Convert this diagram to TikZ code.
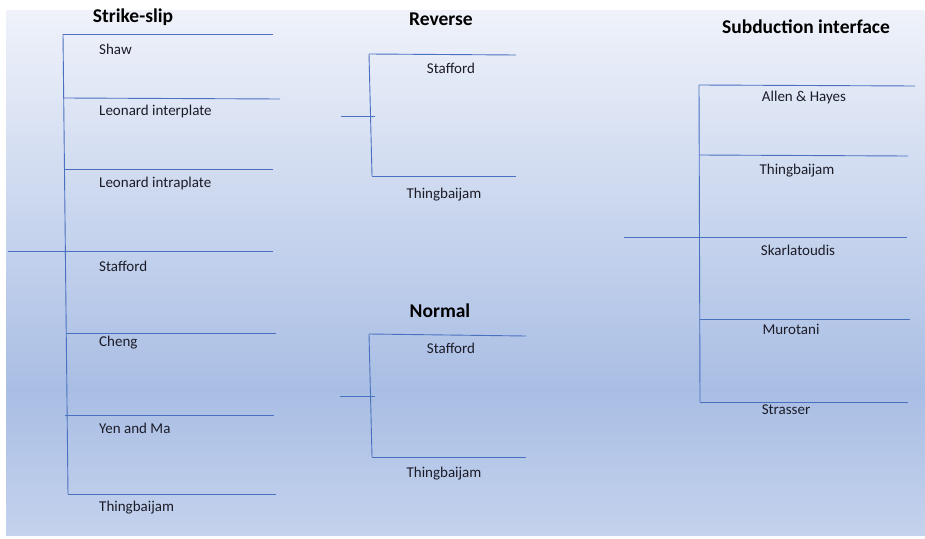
\documentclass[tikz,border=0pt]{standalone}
\usepackage{fontspec}
\setmainfont{Carlito}
\definecolor{bgtop}{HTML}{EFF2FA}
\definecolor{bgmid}{HTML}{A9BEE4}
\definecolor{bgbot}{HTML}{C4D2ED}
\definecolor{ln}{HTML}{4A70C0}
\definecolor{txt}{HTML}{1C1C28}
\begin{document}
\begin{tikzpicture}[x=1pt,y=-1pt,
  br/.style={draw=ln,line width=0.9pt},
  lab/.style={inner sep=0pt,text=txt,font=\fontsize{15}{17}\selectfont},
  labl/.style={lab,anchor=west},
  ttl/.style={inner sep=0pt,text=black,font=\fontsize{19.5}{22}\selectfont\bfseries}]
\useasboundingbox (0,0) rectangle (925,538);
\fill[white] (0,0) rectangle (925,538);
\shade[top color=bgtop,bottom color=bgmid] (6,10) rectangle (925,390);
\shade[top color=bgmid,bottom color=bgbot] (6,389.5) rectangle (925,535);
% Strike-slip
\node[ttl] (tss) at (133,17) {Strike-slip};
\draw[br] (63,34) -- (68,494);
\draw[br] (63,34) -- (273,34);
\draw[br] (64,98) -- (280,99);
\draw[br] (64,169) -- (273,169);
\draw[br] (8,251) -- (273,251);
\draw[br] (66,333) -- (276,333);
\draw[br] (65,415) -- (274,415);
\draw[br] (68,494) -- (276,494);
\node[labl] (s1) at (99,49) {Shaw};
\node[labl] (s2) at (99,111) {Leonard interplate};
\node[labl] (s3) at (99,183) {Leonard intraplate};
\node[labl] (s4) at (99,266) {Stafford};
\node[labl] (s5) at (99,343) {Cheng};
\node[labl] (s6) at (99,428) {Yen and Ma};
\node[labl] (s7) at (99,508) {Thingbaijam};
% Reverse
\node[ttl] (trv) at (441,19) {Reverse};
\draw[br] (369,54) -- (372,176);
\draw[br] (369,54) -- (516,55);
\draw[br] (372,176) -- (516,176);
\draw[br] (341,116) -- (375,116);
\node[lab] (r1) at (451,68) {Stafford};
\node[lab] (r2) at (444,195) {Thingbaijam};
% Normal
\node[ttl] (tnm) at (440,311) {Normal};
\draw[br] (369,334) -- (372,457);
\draw[br] (369,334) -- (526,336);
\draw[br] (372,457) -- (526,457);
\draw[br] (340,396) -- (375,396);
\node[lab] (n1) at (451,348) {Stafford};
\node[lab] (n2) at (444,474) {Thingbaijam};
% Subduction interface
\node[ttl] (tsb) at (806,27) {Subduction interface};
\draw[br] (699,85) -- (700,402);
\draw[br] (699,85) -- (915,86);
\draw[br] (699,155) -- (908,156);
\draw[br] (624,237) -- (907,237);
\draw[br] (700,319) -- (910,319);
\draw[br] (700,402) -- (908,402);
\node[lab] (u1) at (804,97) {Allen \& Hayes};
\node[lab] (u2) at (797,171) {Thingbaijam};
\node[lab] (u3) at (798,250) {Skarlatoudis};
\node[lab] (u4) at (791,329) {Murotani};
\node[lab] (u5) at (786,410) {Strasser};
\end{tikzpicture}
\end{document}
